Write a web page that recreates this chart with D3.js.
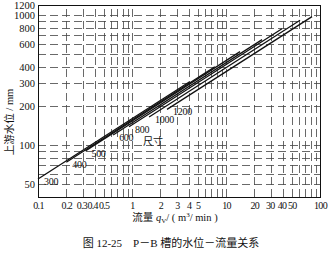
<!DOCTYPE html>
<html>
<meta charset="utf-8">
<style>
body { margin: 0; background: #fff; }
text { font-family: "Liberation Serif", "DejaVu Serif", "Noto Sans CJK SC", serif; fill: #111; }
.grid line { stroke: #444; stroke-width: 0.8px; stroke-dasharray: 8, 4; shape-rendering: crispEdges; }
.frame { fill: none; stroke: #111; stroke-width: 1px; shape-rendering: crispEdges; }
.flume { stroke: #111; stroke-width: 1.3px; fill: none; }
.axis path, .axis line { display: none; }
</style>
<body>
<script src="https://d3js.org/d3.v7.min.js"></script>
<script>

// flume sizes (mm) and their lines: start / end flow and level
var sizes  = [300, 400, 500, 600, 800, 1000, 1200];
var qStart = [0.1, 0.2, 0.32, 0.63, 0.93, 1.52, 2.36];
var hStart = [55, 74, 90.5, 120, 139, 165, 189];
var qEnd   = [4.1, 7.6, 14.1, 24.2, 39.4, 61.3, 82.2];
var hEnd   = [308, 402, 525, 650, 787, 915, 977];

var xTicks = [0.1, 0.2, 0.3, 0.4, 0.5, 1, 2, 3, 4, 5, 10, 20, 30, 40, 50, 100];
var yTicks = [50, 100, 200, 300, 400, 600, 800, 1000, 1200];
var xGrid = [0.2, 0.3, 0.4, 0.5, 0.6, 0.7, 0.8, 0.9, 1, 2, 3, 4, 5, 6, 7, 8, 9, 10, 20, 30, 40, 50, 60, 70, 80, 90];
var yGrid = [50, 60, 70, 80, 90, 100, 200, 300, 400, 500, 600, 700, 800, 900, 1000];

var width = 329, height = 254;

var svg = d3.select("body").append("svg")
    .attr("width", width)
    .attr("height", height);

var x = d3.scaleLog().domain([0.1, 100]).range([38, 320]);
var y = d3.scaleLog().domain([40, 1200]).range([197, 5]);

var grid = svg.append("g").attr("class", "grid");

grid.selectAll(".gx")
    .data(xGrid)
  .enter().append("line")
    .attr("x1", function(d) { return Math.round(x(d)) + 0.5; })
    .attr("x2", function(d) { return Math.round(x(d)) + 0.5; })
    .attr("y1", y(40))
    .attr("y2", y(1200));

grid.selectAll(".gy")
    .data(yGrid)
  .enter().append("line")
    .attr("y1", function(d) { return Math.round(y(d)) + 0.5; })
    .attr("y2", function(d) { return Math.round(y(d)) + 0.5; })
    .attr("x1", x(0.1))
    .attr("x2", x(100));

svg.append("rect")
    .attr("class", "frame")
    .attr("x", x(0.1) + 0.5)
    .attr("y", y(1200) + 0.5)
    .attr("width", x(100) - x(0.1))
    .attr("height", y(40) - y(1200));

var xAxis = d3.axisBottom(x)
    .tickValues(xTicks)
    .tickFormat(function(d) { return d; })
    .tickSize(0)
    .tickPadding(5);

// the crowded small labels are nudged left a little, as in the print
var nudge = {0.3: -1.5, 0.4: -2.5, 30: -1, 40: -1};

svg.append("g")
    .attr("class", "axis")
    .attr("transform", "translate(0," + y(40) + ")")
    .call(xAxis)
    .selectAll("text")
    .style("font-size", "10px")
    .style("letter-spacing", "-0.7px")
    .attr("dx", function(d) { return nudge[d] || 0; });

var yAxis = d3.axisLeft(y)
    .tickValues(yTicks)
    .tickFormat(function(d) { return d; })
    .tickSize(0)
    .tickPadding(3);

svg.append("g")
    .attr("class", "axis")
    .attr("transform", "translate(" + x(0.1) + ",0)")
    .call(yAxis)
    .selectAll("text")
    .style("font-size", "10.5px");

// flume lines
var lines = sizes.map(function(s, i) {
  return {size: s, q0: qStart[i], h0: hStart[i], q1: qEnd[i], h1: hEnd[i]};
});

svg.selectAll(".flume")
    .data(lines)
  .enter().append("line")
    .attr("class", "flume")
    .attr("x1", function(d) { return x(d.q0); })
    .attr("y1", function(d) { return y(d.h0); })
    .attr("x2", function(d) { return x(d.q1); })
    .attr("y2", function(d) { return y(d.h1); });

svg.selectAll(".size-label")
    .data(lines)
  .enter().append("text")
    .attr("class", "size-label")
    .attr("x", function(d) { return x(d.q0) + 6; })
    .attr("y", function(d) { return y(d.h0) + 6; })
    .style("font-size", "10px")
    .style("letter-spacing", "-0.3px")
    .text(function(d) { return d.size; });

svg.append("text")
    .attr("x", x(lines[4].q0) + 14)
    .attr("y", y(lines[4].h0) + 18)
    .style("font-size", "10px")
    .text("尺寸");

// axis titles
var xt = svg.append("text")
    .attr("x", 175)
    .attr("y", 221)
    .attr("text-anchor", "middle")
    .style("font-size", "10.5px");
xt.append("tspan").text("流量 ");
xt.append("tspan").style("font-style", "italic").text("q");
xt.append("tspan").attr("dy", 2).style("font-size", "7px").text("V");
xt.append("tspan").attr("dy", -2).text("/ ( m");
xt.append("tspan").attr("dy", -4).style("font-size", "7px").text("3");
xt.append("tspan").attr("dy", 4).text("/ min )");

svg.append("text")
    .attr("transform", "translate(13,122) rotate(-90)")
    .attr("text-anchor", "middle")
    .style("font-size", "10.5px")
    .text("上游水位 / mm");

svg.append("text")
    .attr("x", 171)
    .attr("y", 247)
    .attr("text-anchor", "middle")
    .style("font-size", "11px")
    .text("图 12-25　P－B 槽的水位－流量关系");

</script>
</body>
</html>
